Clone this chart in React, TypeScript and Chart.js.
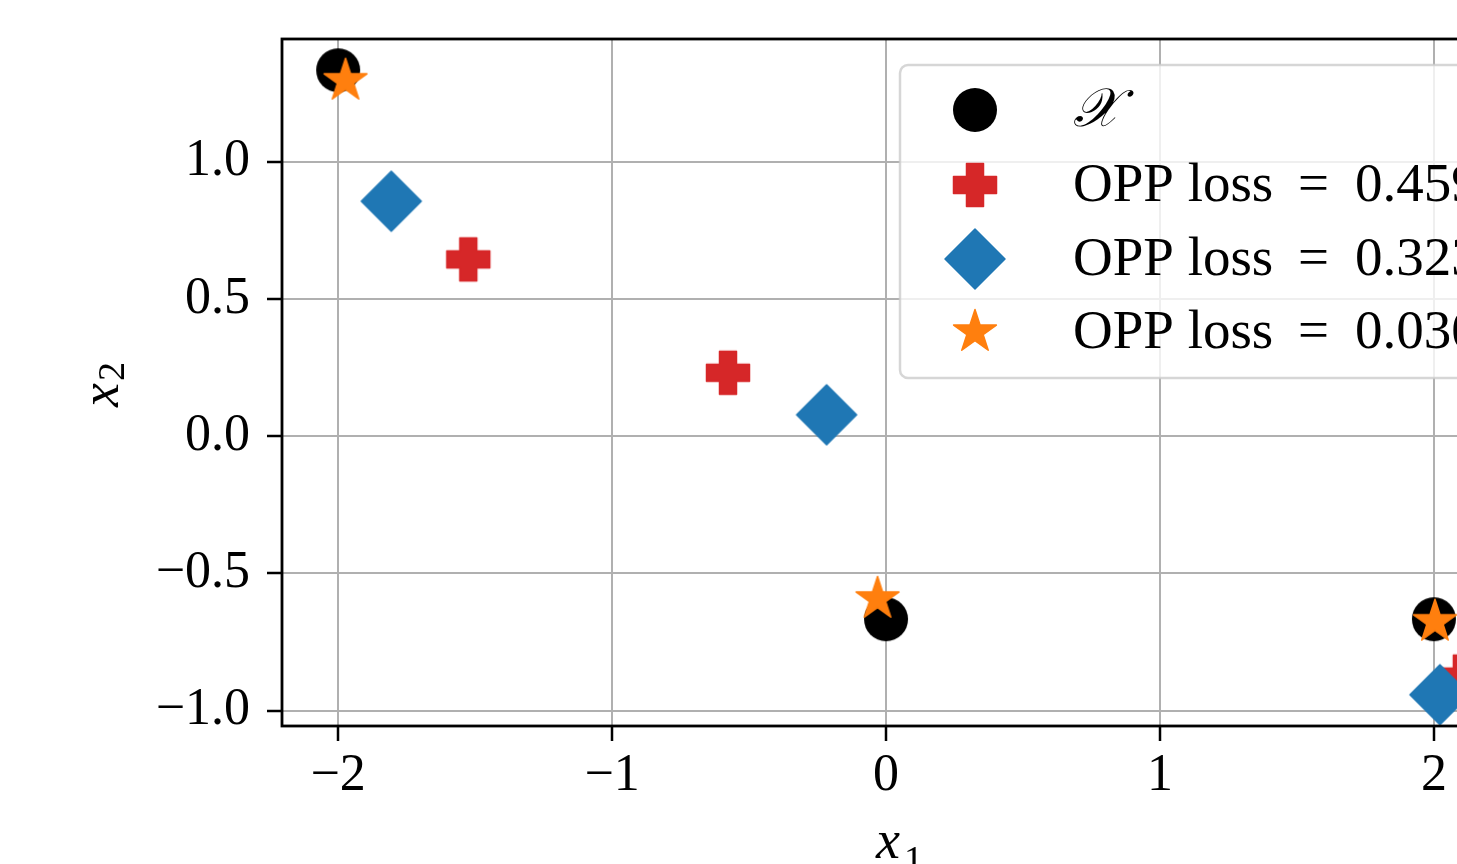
import React, { useEffect, useRef } from "react";
import { Chart, registerables } from "chart.js";

Chart.register(...registerables);

// ---------- data ----------
const legendLabels = ["𝒳", "OPP loss = 0.459", "OPP loss = 0.323", "OPP loss = 0.030"];
const xOriginal = [-2.0, 0.0, 2.0];
const yOriginal = [1.333, -0.667, -0.667];
const xLoss459 = [-1.525, -0.577, 2.102];
const yLoss459 = [0.644, 0.231, -0.876];
const xLoss323 = [-1.806, -0.217, 2.022];
const yLoss323 = [0.856, 0.078, -0.942];
const xLoss030 = [-1.973, -0.031, 2.004];
const yLoss030 = [1.295, -0.593, -0.676];
const xTickValues = [-2, -1, 0, 1, 2];
const xTickLabels = ["−2", "−1", "0", "1", "2"];
const yTickValues = [-1.0, -0.5, 0.0, 0.5, 1.0];
const yTickLabels = ["−1.0", "−0.5", "0.0", "0.5", "1.0"];
const xTitle = ["x", "1"];
const yTitle = ["x", "2"];

// ---------- styles ----------
const colors = ["#000000", "#d62728", "#1f77b4", "#ff7f0e"];
const markerKinds = ["circle", "plus", "diamond", "star"];
const SERIF = "'Liberation Serif', 'DejaVu Serif', serif";

function makeMarker(kind: string, color: string): HTMLCanvasElement {
  const c = document.createElement("canvas");
  const size = kind === "diamond" ? 64 : 50;
  c.width = size;
  c.height = size;
  const ctx = c.getContext("2d")!;
  const m = size / 2;
  ctx.fillStyle = color;
  ctx.strokeStyle = color;
  ctx.lineJoin = "round";
  ctx.beginPath();
  if (kind === "circle") {
    ctx.arc(m, m, 22, 0, Math.PI * 2);
  } else if (kind === "plus") {
    const h = 21.5;
    const t = 8.5;
    ctx.moveTo(m - t, m - h);
    ctx.lineTo(m + t, m - h);
    ctx.lineTo(m + t, m - t);
    ctx.lineTo(m + h, m - t);
    ctx.lineTo(m + h, m + t);
    ctx.lineTo(m + t, m + t);
    ctx.lineTo(m + t, m + h);
    ctx.lineTo(m - t, m + h);
    ctx.lineTo(m - t, m + t);
    ctx.lineTo(m - h, m + t);
    ctx.lineTo(m - h, m - t);
    ctx.lineTo(m - t, m - t);
    ctx.closePath();
  } else if (kind === "diamond") {
    const d = 30;
    ctx.moveTo(m, m - d);
    ctx.lineTo(m + d, m);
    ctx.lineTo(m, m + d);
    ctx.lineTo(m - d, m);
    ctx.closePath();
  } else {
    const R = 22.5;
    const r = R * 0.381966;
    for (let k = 0; k < 10; k++) {
      const rad = k % 2 === 0 ? R : r;
      const a = -Math.PI / 2 + (k * Math.PI) / 5;
      const px = m + rad * Math.cos(a);
      const py = m + rad * Math.sin(a);
      if (k === 0) ctx.moveTo(px, py);
      else ctx.lineTo(px, py);
    }
    ctx.closePath();
  }
  ctx.fill();
  if (kind !== "circle") {
    ctx.lineWidth = 1.5;
    ctx.stroke();
  }
  return c;
}

export default function App() {
  const ref = useRef<HTMLCanvasElement>(null);

  useEffect(() => {
    const canvas = ref.current;
    if (!canvas) return;
    const markers = markerKinds.map((k, i) => makeMarker(k, colors[i]));
    const series: [number[], number[]][] = [
      [xOriginal, yOriginal],
      [xLoss459, yLoss459],
      [xLoss323, yLoss323],
      [xLoss030, yLoss030],
    ];
    const datasets = series.map(([xs, ys], i) => ({
      label: legendLabels[i],
      data: xs.map((x, j) => ({ x, y: ys[j] })),
      pointStyle: markers[i] as any,
      pointRadius: 20,
      pointHoverRadius: 20,
      backgroundColor: colors[i],
      borderColor: colors[i],
      order: 4 - i,
    }));

    const framePlugin = {
      id: "frame",
      afterDatasetsDraw(chart: any) {
        const { ctx, chartArea: a } = chart;
        ctx.save();
        ctx.strokeStyle = "#000";
        ctx.lineWidth = 2.8;
        ctx.strokeRect(a.left, a.top, a.right - a.left, a.bottom - a.top);
        ctx.restore();
      },
    };

    const legendPlugin = {
      id: "customLegend",
      afterDraw(chart: any) {
        const ctx = chart.ctx as CanvasRenderingContext2D;
        ctx.save();
        const lx = 900, ly = 65, lw = 593, lh = 313;
        ctx.beginPath();
        (ctx as any).roundRect(lx, ly, lw, lh, 8);
        ctx.fillStyle = "rgba(255,255,255,0.8)";
        ctx.fill();
        ctx.strokeStyle = "rgba(204,204,204,0.8)";
        ctx.lineWidth = 2.5;
        ctx.stroke();
        const rows = [110, 185, 259, 332];
        const markerX = 975;
        const textX = 1073;
        legendLabels.forEach((label, i) => {
          const m = markers[i];
          ctx.drawImage(m, markerX - m.width / 2, rows[i] - m.height / 2);
          ctx.fillStyle = "#000";
          ctx.textBaseline = "alphabetic";
          ctx.textAlign = "left";
          const base = rows[i] + 16;
          if (label.includes(" = ")) {
            const [left, right] = label.split(" = ");
            ctx.font = `55px ${SERIF}`;
            ctx.fillText(left, textX, base);
            ctx.fillText("=", textX + 225, base);
            ctx.fillText(right, textX + 282, base);
          } else {
            ctx.font = `italic 54px ${SERIF}, 'DejaVu Sans', 'Noto Sans'`;
            ctx.fillText(label, textX, base);
          }
        });
        ctx.restore();
      },
    };

    const titlePlugin = {
      id: "axisTitles",
      afterDraw(chart: any) {
        const ctx = chart.ctx as CanvasRenderingContext2D;
        ctx.save();
        ctx.fillStyle = "#000";
        ctx.textBaseline = "alphabetic";
        ctx.textAlign = "left";
        // x title
        ctx.font = `italic 54px ${SERIF}`;
        const wx = ctx.measureText(xTitle[0]).width;
        ctx.fillText(xTitle[0], 876, 858);
        ctx.font = `38px ${SERIF}`;
        ctx.fillText(xTitle[1], 876 + wx + 4, 872);
        // y title (rotated)
        ctx.translate(118, 407);
        ctx.rotate(-Math.PI / 2);
        ctx.font = `italic 54px ${SERIF}`;
        const wy = ctx.measureText(yTitle[0]).width;
        ctx.fillText(yTitle[0], 0, 0);
        ctx.font = `38px ${SERIF}`;
        ctx.fillText(yTitle[1], wy + 2, 6);
        ctx.restore();
      },
    };

    const gridCommon = {
      color: "#b0b0b0",
      lineWidth: 2,
      tickColor: "#000",
      tickWidth: 2.5,
      tickLength: 15,
      drawTicks: true,
    };

    const chart = new Chart(canvas, {
      type: "scatter",
      data: { datasets: datasets as any },
      options: {
        responsive: false,
        animation: false,
        devicePixelRatio: 1,
        events: [],
        layout: { padding: { left: 0, top: 39, right: 82, bottom: 0 } },
        plugins: { legend: { display: false }, tooltip: { enabled: false } },
        scales: {
          x: {
            type: "linear",
            min: -2.205,
            max: 2.307,
            afterFit: (s: any) => {
              s.height = 174;
              s.paddingLeft = 0;
              s.paddingRight = 0;
            },
            afterBuildTicks: (s: any) => {
              s.ticks = xTickValues.map((v) => ({ value: v }));
            },
            grid: gridCommon,
            border: { display: false },
            ticks: {
              autoSkip: false,
              maxRotation: 0,
              padding: 4,
              color: "#000",
              font: { family: SERIF, size: 52 },
              callback: (_v: any, i: number) => xTickLabels[i],
            },
          },
          y: {
            type: "linear",
            min: -1.056,
            max: 1.447,
            afterFit: (s: any) => {
              s.width = 282;
              s.paddingTop = 0;
              s.paddingBottom = 0;
            },
            afterBuildTicks: (s: any) => {
              s.ticks = yTickValues.map((v) => ({ value: v }));
            },
            grid: gridCommon,
            border: { display: false },
            ticks: {
              autoSkip: false,
              padding: 17,
              color: "#000",
              font: { family: SERIF, size: 52 },
              callback: (_v: any, i: number) => yTickLabels[i],
            },
          },
        },
      },
      plugins: [framePlugin, legendPlugin, titlePlugin],
    });

    return () => {
      chart.destroy();
    };
  }, []);

  return (
    <div
      style={{
        position: "fixed",
        left: 0,
        top: 0,
        width: 1457,
        height: 864,
        overflow: "hidden",
        background: "#fff",
      }}
    >
      <canvas ref={ref} width={1600} height={900} style={{ display: "block", width: 1600, height: 900 }} />
    </div>
  );
}
